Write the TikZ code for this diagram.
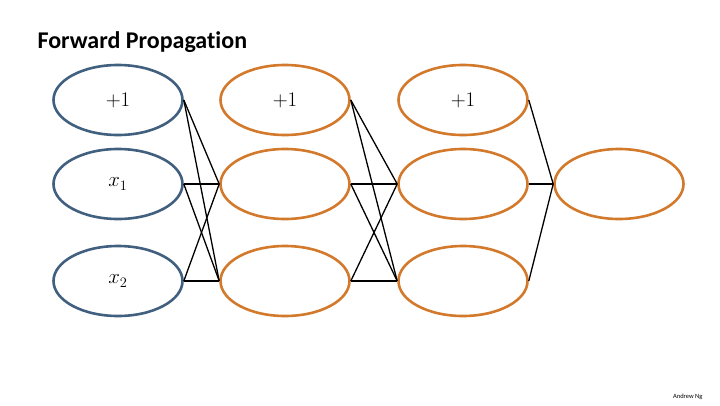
\documentclass[tikz,border=0pt]{standalone}
\usepackage{fontspec}
\usetikzlibrary{shapes.geometric}
\newfontfamily\slidefont[Ligatures=NoCommon]{Carlito}
\definecolor{inblue}{HTML}{41607F}
\definecolor{unitorange}{HTML}{D2792B}

\begin{document}
\begin{tikzpicture}[x=1pt, y=-1pt,
    unit/.style={ellipse, draw=unitorange, line width=2.6pt, minimum width=129pt,
                 minimum height=70pt, inner sep=0pt, font=\fontsize{22}{26}\selectfont},
    inunit/.style={unit, draw=inblue},
    wire/.style={line width=1.3pt, black},
]
\useasboundingbox (0,0) rectangle (720,405);

\node[anchor=west, font=\slidefont\bfseries\fontsize{24}{28}\selectfont] (title) at (34,42) {Forward Propagation};

% Layer 1 (inputs)
\node[inunit] (in0) at (118,100) {$+1$};
\node[inunit] (in1) at (118,184) {$x_1$};
\node[inunit] (in2) at (118,281) {$x_2$};

% Layer 2
\node[unit] (hA0) at (285,100) {$+1$};
\node[unit] (hA1) at (285,184) {};
\node[unit] (hA2) at (285,281) {};

% Layer 3
\node[unit] (hB0) at (463,100) {$+1$};
\node[unit] (hB1) at (463,184) {};
\node[unit] (hB2) at (463,281) {};

% Layer 4 (output)
\node[unit] (out) at (619,184) {};

\draw[wire] (in0.east) -- (hA1.west);
\draw[wire] (in0.east) -- (hA2.west);
\draw[wire] (in1.east) -- (hA1.west);
\draw[wire] (in1.east) -- (hA2.west);
\draw[wire] (in2.east) -- (hA1.west);
\draw[wire] (in2.east) -- (hA2.west);

\draw[wire] (hA0.east) -- (hB1.west);
\draw[wire] (hA0.east) -- (hB2.west);
\draw[wire] (hA1.east) -- (hB1.west);
\draw[wire] (hA1.east) -- (hB2.west);
\draw[wire] (hA2.east) -- (hB1.west);
\draw[wire] (hA2.east) -- (hB2.west);

\draw[wire] (hB0.east) -- (out.west);
\draw[wire] (hB1.east) -- (out.west);
\draw[wire] (hB2.east) -- (out.west);

\node[anchor=east, font=\slidefont\fontsize{6.5}{8}\selectfont] (credit) at (706,397) {Andrew Ng};

\end{tikzpicture}
\end{document}
